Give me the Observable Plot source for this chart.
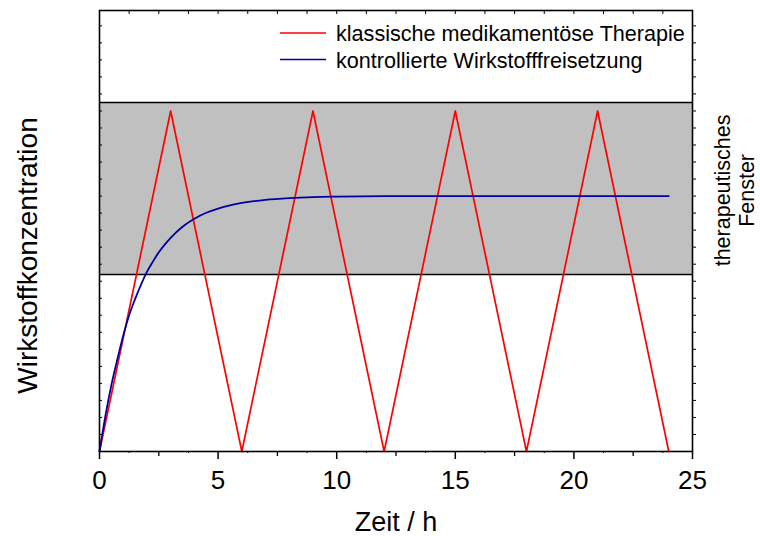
<!DOCTYPE html>
<html><head><meta charset="utf-8">
<script src="https://cdn.jsdelivr.net/npm/d3@7"></script>
<script src="https://cdn.jsdelivr.net/npm/@observablehq/plot@0.6"></script>
<style>body{margin:0;background:#fff} #chart{width:760px;height:536px}</style>
</head><body><div id="chart"></div>
<script>
const classicTime = [0, 3, 6, 9, 12, 15, 18, 21, 24];
const classicConc = [0, 20, 0, 20, 0, 20, 0, 20, 0];
const controlledTime = [0, 0.25, 0.5, 0.75, 1, 1.25, 1.5, 1.75, 2, 2.25, 2.5, 2.75, 3, 3.5, 4, 4.5, 5, 5.5, 6, 7, 8, 9, 10, 12, 14, 16, 18, 20, 22, 24];
const controlledConc = [0, 2.1, 3.9, 5.4, 6.8, 8.0, 8.95, 9.8, 10.55, 11.15, 11.7, 12.15, 12.55, 13.2, 13.67, 14.02, 14.27, 14.46, 14.6, 14.78, 14.88, 14.94, 14.97, 15, 15, 15, 15, 15, 15, 15];
const windowRange = [10.4, 20.5];
const xMajorTicks = [0, 5, 10, 15, 20, 25];
const seriesNames = ["klassische medikamentöse Therapie", "kontrollierte Wirkstofffreisetzung"];
const seriesColors = ["#ff0000", "#0000a0"];
const xLabel = "Zeit / h";
const yLabel = "Wirkstoffkonzentration";
const windowLabel = "therapeutisches\nFenster";

const classic = classicTime.map((t, i) => ({t, c: classicConc[i]}));
const controlled = controlledTime.map((t, i) => ({t, c: controlledConc[i]}));
const font = "'Liberation Sans', Arial, Helvetica, sans-serif";

const plot = Plot.plot({
  width: 760, height: 536,
  marginLeft: 99, marginRight: 68, marginTop: 10, marginBottom: 85,
  style: {fontFamily: font, background: "white", overflow: "visible", color: "black"},
  x: {domain: [0, 25]},
  y: {domain: [0, 25.9]},
  marks: [
    Plot.rect([windowRange], {y1: d => d[0], y2: d => d[1], fill: "#c0c0c0"}),
    Plot.ruleY(windowRange, {stroke: "black", strokeWidth: 1.5}),
    Plot.line(classic, {x: "t", y: "c", stroke: seriesColors[0], strokeWidth: 1.7}),
    Plot.line(controlled, {x: "t", y: "c", stroke: seriesColors[1], strokeWidth: 1.8, curve: "monotone-x"}),
    Plot.frame({stroke: "black", strokeWidth: 1.6}),
    Plot.axisX(xMajorTicks, {anchor: "bottom", tickSize: 8, tickPadding: 11, fontSize: 26, strokeWidth: 1.5, label: null}),
    Plot.axisX(d3.range(2.5, 25, 5), {anchor: "bottom", tickSize: 5, tickFormat: () => "", strokeWidth: 1.3, label: null}),
    Plot.axisX(d3.range(1.25, 25, 2.5), {anchor: "bottom", tickSize: 2, tickFormat: () => "", label: null}),
    Plot.axisX(d3.range(1.25, 25, 1.25), {anchor: "top", tickSize: -3, tickFormat: () => "", label: null}),
    Plot.axisY(d3.range(1, 26), {anchor: "left", tickSize: -3, tickFormat: () => "", label: null}),
    Plot.axisY(d3.range(1, 26), {anchor: "right", tickSize: 3, tickFormat: () => "", label: null}),
    Plot.text([xLabel], {frameAnchor: "bottom", dy: 71, fontSize: 27, lineAnchor: "middle"}),
    Plot.text([yLabel], {frameAnchor: "left", dx: -71, dy: 24.5, rotate: -90, fontSize: 28, lineAnchor: "middle", textAnchor: "middle"}),
    Plot.text([windowLabel], {frameAnchor: "right", y: () => (windowRange[0] + windowRange[1]) / 2, dx: 41.5, dy: 2, rotate: -90, fontSize: 21.5, lineHeight: 1.15, lineAnchor: "middle", textAnchor: "middle"})
  ]
});

const svg = d3.select(plot);
const lg = svg.append("g").attr("font-family", font).attr("font-size", 21.6).attr("text-anchor", "start");
seriesNames.forEach((name, i) => {
  const y = 33 + i * 26.5;
  lg.append("line").attr("x1", 280).attr("x2", 326).attr("y1", y).attr("y2", y)
    .attr("stroke", seriesColors[i]).attr("stroke-width", 1.7);
  lg.append("text").attr("x", 336).attr("y", y + 8).attr("fill", "black").text(name);
});

document.getElementById("chart").appendChild(plot);
</script>
</body></html>
